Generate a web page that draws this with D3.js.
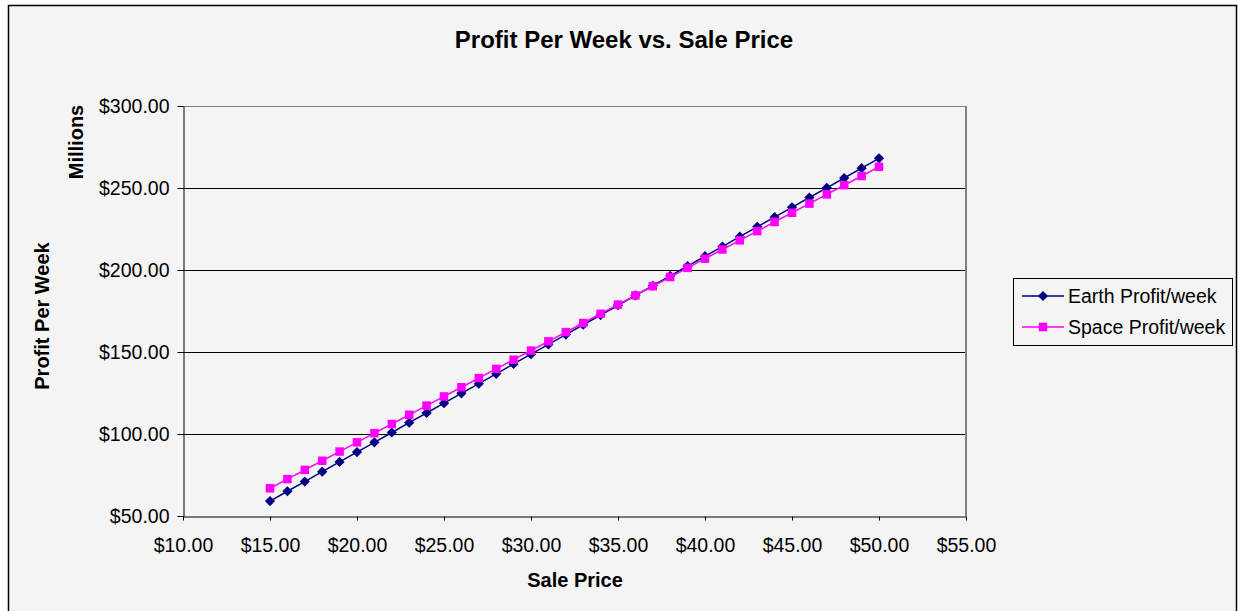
<!DOCTYPE html>
<html>
<head>
<meta charset="utf-8">
<script src="https://cdn.jsdelivr.net/npm/d3@7"></script>
<style>
  body { margin: 0; background: #ffffff; }
  text { font-family: Arial, "Liberation Sans", sans-serif; }
</style>
</head>
<body>
<svg id="chart"></svg>
<script>
// sale price (x) values
let salePrice = [15, 16, 17, 18, 19, 20, 21, 22, 23, 24, 25, 26, 27, 28, 29, 30, 31, 32,
  33, 34, 35, 36, 37, 38, 39, 40, 41, 42, 43, 44, 45, 46, 47, 48, 49, 50];
// profit per week, millions
let earthProfit = [59.1, 65.1, 71.0, 77.0, 83.0, 89.0, 94.9, 100.9, 106.9, 112.8, 118.8, 124.8,
  130.7, 136.7, 142.7, 148.7, 154.6, 160.6, 166.6, 172.5, 178.5, 184.5, 190.4, 196.4,
  202.4, 208.4, 214.3, 220.3, 226.3, 232.2, 238.2, 244.2, 250.1, 256.1, 262.1, 268.1];
let spaceProfit = [66.9, 72.5, 78.1, 83.7, 89.3, 94.9, 100.5, 106.1, 111.7, 117.3, 122.9, 128.5,
  134.1, 139.7, 145.3, 150.9, 156.5, 162.1, 167.7, 173.3, 178.9, 184.5, 190.1, 195.7,
  201.3, 206.9, 212.5, 218.1, 223.7, 229.3, 234.9, 240.5, 246.1, 251.7, 257.3, 262.9];
let xTicks = [10, 15, 20, 25, 30, 35, 40, 45, 50, 55];
let yTicks = [50, 100, 150, 200, 250, 300];
let seriesNames = ["Earth Profit/week", "Space Profit/week"];

let width = 1238;
let height = 611;
let plotLeft = 183, plotRight = 966, plotTop = 106, plotBottom = 516;

let svg = d3.select("#chart").attr("width", width).attr("height", height);

// фон и рамка
svg.append("rect")
  .attr("x", 8.5).attr("y", 5.5)
  .attr("width", 1228).attr("height", height)
  .attr("fill", "#f4f4f4")
  .attr("stroke", "#000")
  .attr("stroke-width", 1.5);

let scaleX = d3.scaleLinear().domain([10, 55]).range([plotLeft, plotRight]);
let scaleY = d3.scaleLinear().domain([50, 300]).range([plotBottom, plotTop]);

// горизонтальные линии сетки
svg.append("g")
  .selectAll("line")
  .data(yTicks.slice(1))
  .enter()
  .append("line")
  .attr("x1", plotLeft).attr("x2", plotRight)
  .attr("y1", (d) => Math.round(scaleY(d)) + 0.5)
  .attr("y2", (d) => Math.round(scaleY(d)) + 0.5)
  .attr("stroke", (d) => (d === 300 ? "#808080" : "#000"))
  .attr("stroke-width", 1);

// правая граница области построения
svg.append("line")
  .attr("x1", plotRight).attr("x2", plotRight)
  .attr("y1", plotTop).attr("y2", plotBottom)
  .attr("stroke", "#808080")
  .attr("stroke-width", 2);

let money = (d) => "$" + d3.format(".2f")(d);

let axisX = d3.axisBottom(scaleX).tickValues(xTicks).tickFormat(money)
  .tickSizeInner(4).tickSizeOuter(0).tickPadding(18);
let axisY = d3.axisLeft(scaleY).tickValues(yTicks).tickFormat(money)
  .tickSizeInner(6).tickSizeOuter(0).tickPadding(8);

let gx = svg.append("g")
  .attr("transform", `translate(0, ${Math.round(plotBottom) + 0.5})`)
  .call(axisX);
gx.selectAll("text").attr("font-size", 19.5).attr("fill", "#000")
  .attr("font-family", "Arial, 'Liberation Sans', sans-serif");
gx.selectAll("line, path").attr("stroke", "#000");

let gy = svg.append("g")
  .attr("transform", `translate(${plotLeft + 0.5}, 0)`)
  .call(axisY);
gy.selectAll("text").attr("font-size", 19.5).attr("fill", "#000")
  .attr("font-family", "Arial, 'Liberation Sans', sans-serif");
gy.selectAll("line, path").attr("stroke", "#000");

// линии серий
let series = [
  { name: seriesNames[0], values: earthProfit, color: "#000080", shape: d3.symbolSquare, size: 52, rotate: 45 },
  { name: seriesNames[1], values: spaceProfit, color: "#ff00ff", shape: d3.symbolSquare, size: 72, rotate: 0 }
];

let line = d3.line()
  .x((d) => scaleX(d[0]))
  .y((d) => scaleY(d[1]));

series.forEach(function (s) {
  let pts = salePrice.map((p, i) => [p, s.values[i]]);
  svg.append("path")
    .datum(pts)
    .attr("d", line)
    .attr("fill", "none")
    .attr("stroke", s.color)
    .attr("stroke-width", 1.5);
  svg.append("g")
    .selectAll("path")
    .data(pts)
    .enter()
    .append("path")
    .attr("d", d3.symbol().type(s.shape).size(s.size))
    .attr("transform", (d) => `translate(${scaleX(d[0])}, ${scaleY(d[1])}) rotate(${s.rotate})`)
    .attr("fill", s.color);
});

// заголовки
svg.append("text")
  .attr("x", 624).attr("y", 48)
  .attr("text-anchor", "middle")
  .attr("font-size", 24).attr("font-weight", "bold")
  .text("Profit Per Week vs. Sale Price");

svg.append("text")
  .attr("x", 575).attr("y", 587)
  .attr("text-anchor", "middle")
  .attr("font-size", 20).attr("font-weight", "bold")
  .text("Sale Price");

svg.append("text")
  .attr("transform", "translate(49, 316) rotate(-90)")
  .attr("text-anchor", "middle")
  .attr("font-size", 20).attr("font-weight", "bold")
  .text("Profit Per Week");

svg.append("text")
  .attr("transform", "translate(83, 142) rotate(-90)")
  .attr("text-anchor", "middle")
  .attr("font-size", 20).attr("font-weight", "bold")
  .text("Millions");

// легенда
let legend = svg.append("g").attr("transform", "translate(1013, 278)");
legend.append("rect")
  .attr("x", 0.5).attr("y", 0.5)
  .attr("width", 219).attr("height", 67)
  .attr("fill", "#f4f4f4")
  .attr("stroke", "#000");
series.forEach(function (s, i) {
  let y = 18 + i * 31;
  legend.append("line")
    .attr("x1", 9).attr("x2", 51)
    .attr("y1", y).attr("y2", y)
    .attr("stroke", s.color).attr("stroke-width", 1.5);
  legend.append("path")
    .attr("d", d3.symbol().type(s.shape).size(s.size))
    .attr("transform", `translate(30, ${y}) rotate(${s.rotate})`)
    .attr("fill", s.color);
  legend.append("text")
    .attr("x", 55).attr("y", y + 7)
    .attr("font-size", 19.5)
    .text(s.name);
});
</script>
</body>
</html>
